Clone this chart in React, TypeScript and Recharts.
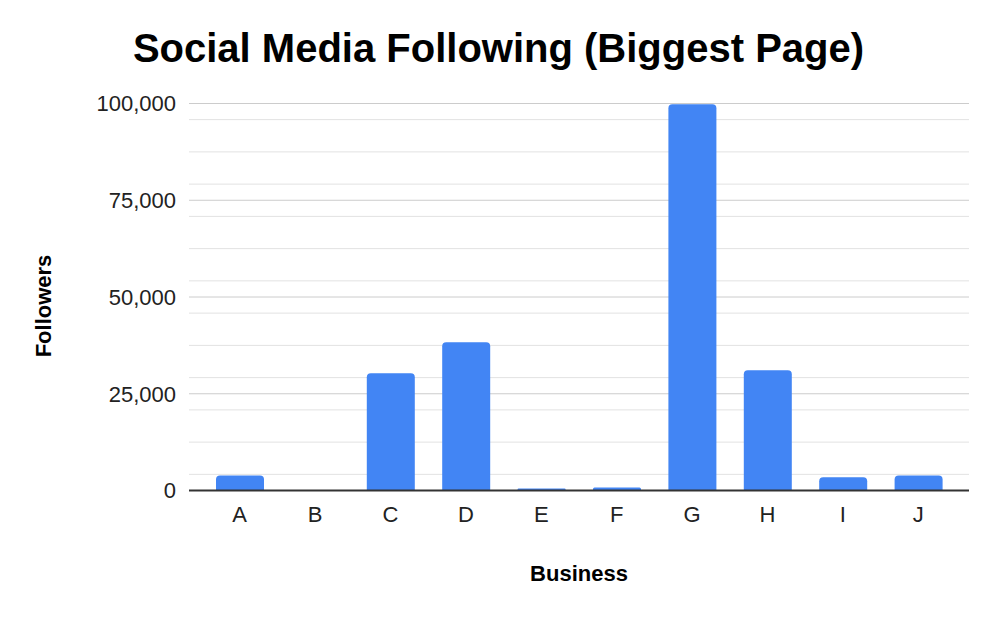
import React from 'react';
import { BarChart, Bar, XAxis, YAxis, CartesianGrid } from 'recharts';

const categories = ['A', 'B', 'C', 'D', 'E', 'F', 'G', 'H', 'I', 'J'];
const followers = [3900, 0, 30300, 38300, 500, 800, 99800, 31100, 3400, 3900];
const majorTicks = [0, 25000, 50000, 75000, 100000];
const minorTicks = [
  4167, 8333, 12500, 16667, 20833,
  29167, 33333, 37500, 41667, 45833,
  54167, 58333, 62500, 66667, 70833,
  79167, 83333, 87500, 91667, 95833,
];

const data = categories.map((c, i) => ({ business: c, followers: followers[i] }));

const FONT = '"Liberation Sans", Arial, sans-serif';

export default function App() {
  return (
    <div style={{ position: 'absolute', left: 0, top: 0, width: 1000, height: 618, background: '#fff', fontFamily: FONT }}>
      <BarChart
        width={1000}
        height={618}
        data={data}
        margin={{ top: 103.5, right: 31, left: 0, bottom: 97.5 }}
      >
        <CartesianGrid vertical={false} horizontalValues={minorTicks} stroke="#e2e2e2" strokeWidth={1} />
        <CartesianGrid vertical={false} horizontalValues={majorTicks} stroke="#cccccc" strokeWidth={1} />
        <XAxis
          dataKey="business"
          height={30}
          padding={{ left: 13, right: 13 }}
          tickLine={false}
          tickMargin={9.5}
          axisLine={{ stroke: '#333333', strokeWidth: 2 }}
          tick={{ fill: '#222222', fontSize: 22, fontFamily: FONT }}
          interval={0}
        />
        <YAxis
          width={189}
          domain={[0, 100000]}
          ticks={majorTicks}
          axisLine={false}
          tickLine={false}
          tickMargin={7}
          tickFormatter={(v: number) => v.toLocaleString('en-US')}
          tick={{ fill: '#222222', fontSize: 22, fontFamily: FONT }}
        />
        <Bar dataKey="followers" fill="#4285F4" barSize={48} radius={[4, 4, 0, 0]} isAnimationActive={false} />
      </BarChart>
      <div style={{ position: 'absolute', left: -1.5, top: 28.1, width: 1000, textAlign: 'center', fontSize: 40, lineHeight: '40px', fontWeight: 'bold', color: '#000' }}>
        Social Media Following (Biggest Page)
      </div>
      <div style={{ position: 'absolute', left: 479, top: 563, width: 200, textAlign: 'center', fontSize: 22, lineHeight: '22px', fontWeight: 'bold', color: '#000' }}>
        Business
      </div>
      <div style={{ position: 'absolute', left: -55.9, top: 295, width: 200, height: 22, textAlign: 'center', fontSize: 22, lineHeight: '22px', fontWeight: 'bold', color: '#000', transform: 'rotate(-90deg)' }}>
        Followers
      </div>
    </div>
  );
}
